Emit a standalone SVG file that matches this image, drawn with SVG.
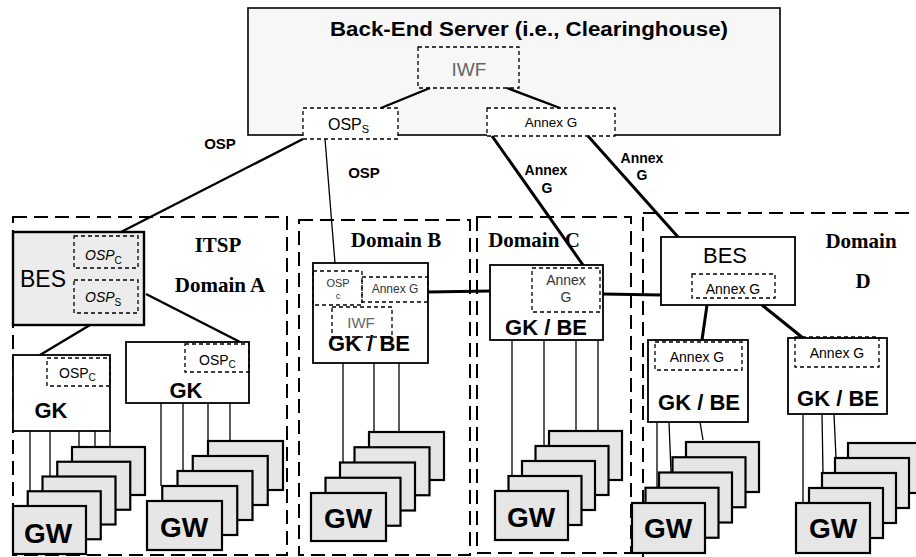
<svg xmlns="http://www.w3.org/2000/svg" width="916" height="557" viewBox="0 0 916 557">
<style>
.bg{fill:#fff}
.server{fill:#f7f7f7;stroke:#000;stroke-width:1.6}
.box{fill:#fff;stroke:#000;stroke-width:1.8}
.bes{fill:#ececec;stroke:#000;stroke-width:2.4}
.dash{fill:none;stroke:#000;stroke-width:1.3;stroke-dasharray:4 3}
.dashw{fill:#fff;stroke:#000;stroke-width:1.3;stroke-dasharray:4 3}
.domain{fill:none;stroke:#000;stroke-width:2;stroke-dasharray:14 7}
.card{fill:#e6e6e6;stroke:#000;stroke-width:2.2}
.thick{stroke:#000;stroke-width:3;fill:none}
.med{stroke:#000;stroke-width:2.4;fill:none}
.thin{stroke:#000;stroke-width:1.3;fill:none}
.sans{font-family:"Liberation Sans",Arial,sans-serif}
.serif{font-family:"Liberation Serif","Times New Roman",serif;font-weight:bold;font-size:21px}
.b{font-weight:bold}
.gw{font-family:"Liberation Sans",Arial,sans-serif;font-weight:bold;font-size:28px;text-anchor:middle}
.gk{font-family:"Liberation Sans",Arial,sans-serif;font-weight:bold;font-size:22px;text-anchor:middle}
.mid{text-anchor:middle}
</style>
<rect class="bg" x="0" y="0" width="916" height="557"/>

<g id="back-end-server">
<rect class="server" x="248" y="8" width="532" height="127"/>
<text class="sans b" x="330" y="36" font-size="20" textLength="398" lengthAdjust="spacingAndGlyphs">Back-End Server (i.e., Clearinghouse)</text>
</g>
<g id="iwf-server">
<rect class="dash" x="418" y="47" width="101" height="41"/>
<text class="sans mid" x="469" y="76" font-size="19" fill="#666">IWF</text>
</g>
<g id="osp-s-server">
<rect class="dashw" x="303" y="108" width="95" height="31"/>
<text class="sans" x="328" y="130" font-size="16">OSP<tspan font-size="11" dy="3">S</tspan></text>
</g>
<g id="annexg-server">
<rect class="dashw" x="487" y="108" width="128" height="28"/>
<text class="sans mid" x="551" y="127" font-size="13.5">Annex G</text>
</g>

<g id="domain-a">
<rect class="domain" x="13" y="217" width="274" height="338"/>
<text class="serif mid" x="218" y="252">ITSP</text>
<text class="serif mid" x="220" y="292">Domain A</text>
</g>
<g id="domain-b">
<rect class="domain" x="299" y="220" width="171" height="335"/>
<text class="serif mid" x="396" y="247">Domain B</text>
</g>
<g id="domain-c">
<rect class="domain" x="477" y="217" width="154" height="336"/>
<text class="serif mid" x="534" y="247">Domain C</text>
</g>
<g id="domain-d">
<rect class="domain" x="643" y="213" width="300" height="360"/>
<text class="serif mid" x="861" y="248">Domain</text>
<text class="serif mid" x="863" y="288">D</text>
</g>

<g id="connectors">
<line class="med" x1="430" y1="88" x2="381" y2="108"/>
<line class="med" x1="507" y1="88" x2="560" y2="108"/>
<line class="med" x1="303" y1="139" x2="121" y2="232"/>
<line class="thin" x1="325" y1="139" x2="335" y2="263" stroke-width="1.6"/>
<line class="thick" x1="492" y1="136" x2="583" y2="265"/>
<line class="thick" x1="588" y1="136" x2="678" y2="237"/>
<line class="med" x1="90" y1="325" x2="40" y2="355"/>
<line class="med" x1="146" y1="294" x2="240" y2="342"/>
<line class="thick" x1="428" y1="292" x2="490" y2="291"/>
<line class="thick" x1="603" y1="294" x2="661" y2="295"/>
<line class="thick" x1="707" y1="305" x2="702" y2="340"/>
<line class="thick" x1="762" y1="305" x2="803" y2="338"/>
<line class="thin" x1="30" y1="431" x2="30" y2="491"/>
<line class="thin" x1="50" y1="431" x2="50" y2="477"/>
<line class="thin" x1="79" y1="431" x2="79" y2="462"/>
<line class="thin" x1="95" y1="431" x2="95" y2="447"/>
<line class="thin" x1="110" y1="431" x2="110" y2="447"/>
<line class="thin" x1="161" y1="403" x2="161" y2="486"/>
<line class="thin" x1="183" y1="403" x2="183" y2="471"/>
<line class="thin" x1="208" y1="403" x2="208" y2="456"/>
<line class="thin" x1="230" y1="403" x2="230" y2="441"/>
<line class="thin" x1="343" y1="363" x2="343" y2="462"/>
<line class="thin" x1="374" y1="363" x2="374" y2="432"/>
<line class="thin" x1="399" y1="363" x2="399" y2="432"/>
<line class="thin" x1="512" y1="340" x2="512" y2="476"/>
<line class="thin" x1="544" y1="340" x2="544" y2="446"/>
<line class="thin" x1="576" y1="340" x2="576" y2="431"/>
<line class="thin" x1="598" y1="340" x2="598" y2="431"/>
<line class="thin" x1="657" y1="422" x2="657" y2="488"/>
<line class="thin" x1="669" y1="422" x2="671" y2="472"/>
<line class="thin" x1="700" y1="422" x2="703" y2="440"/>
<line class="thin" x1="803" y1="414" x2="803" y2="503"/>
<line class="thin" x1="822" y1="414" x2="823" y2="473"/>
<line class="thin" x1="834" y1="414" x2="836" y2="458"/>
</g>

<g id="bes-a">
<rect class="bes" x="13" y="232" width="131" height="93"/>
<text class="sans" x="20" y="287" font-size="23">BES</text>
<rect class="dash" x="74" y="236" width="64" height="32"/>
<text class="sans" x="85" y="260" font-size="14" font-style="italic">OSP<tspan font-size="10" dy="4" font-style="normal">C</tspan></text>
<rect class="dash" x="74" y="280" width="64" height="33"/>
<text class="sans" x="85" y="302" font-size="14" font-style="italic">OSP<tspan font-size="10" dy="4" font-style="normal">S</tspan></text>
</g>

<g id="gk-a1">
<rect class="box" x="13" y="355" width="97" height="76"/>
<rect class="dash" x="47" y="358" width="63" height="28"/>
<text class="sans" x="59" y="378" font-size="14">OSP<tspan font-size="10" dy="3">C</tspan></text>
<text class="gk" x="51" y="418">GK</text>
</g>
<g id="gk-a2">
<rect class="box" x="126" y="342" width="123" height="61"/>
<rect class="dash" x="185" y="344" width="64" height="28"/>
<text class="sans" x="199" y="365" font-size="14">OSP<tspan font-size="10" dy="3">C</tspan></text>
<text class="gk" x="186" y="398" font-size="21">GK</text>
</g>

<g id="gkbe-b">
<rect class="box" x="313" y="263" width="115" height="100"/>
<rect class="dash" x="313" y="271" width="49" height="34"/>
<text class="sans mid" x="338" y="287" font-size="11" fill="#333">OSP</text>
<text class="sans mid" x="338" y="299" font-size="9" fill="#333">c</text>
<rect class="dash" x="362" y="277" width="66" height="25"/>
<text class="sans mid" x="395" y="293" font-size="12" fill="#333">Annex G</text>
<rect class="dash" x="332" y="307" width="60" height="30"/>
<text class="sans mid" x="361" y="328" font-size="15" fill="#666">IWF</text>
<text class="gk" x="369" y="351">GK / BE</text>
</g>

<g id="gkbe-c">
<rect class="box" x="490" y="265" width="113" height="75"/>
<rect class="dash" x="532" y="268" width="68" height="44"/>
<text class="sans mid" x="566" y="285" font-size="14" fill="#333">Annex</text>
<text class="sans mid" x="566" y="302" font-size="14" fill="#333">G</text>
<text class="gk" x="546" y="335">GK / BE</text>
</g>

<g id="bes-d">
<rect class="box" x="661" y="237" width="134" height="68" stroke-width="2.2"/>
<text class="sans mid" x="725" y="263" font-size="22">BES</text>
<rect class="dash" x="692" y="274" width="83" height="24"/>
<text class="sans mid" x="733" y="294" font-size="14">Annex G</text>
</g>

<g id="gkbe-d1">
<rect class="box" x="648" y="340" width="100" height="82"/>
<rect class="dash" x="655" y="342" width="87" height="28"/>
<text class="sans mid" x="697" y="362" font-size="14">Annex G</text>
<text class="gk" x="699" y="410">GK / BE</text>
</g>
<g id="gkbe-d2">
<rect class="box" x="788" y="338" width="99" height="76"/>
<rect class="dash" x="795" y="337" width="84" height="30"/>
<text class="sans mid" x="837" y="358" font-size="14">Annex G</text>
<text class="gk" x="838" y="406">GK / BE</text>
</g>

<g id="gw-a1">
<rect class="card" x="72" y="447" width="73" height="48"/>
<rect class="card" x="57.25" y="461.75" width="73" height="48"/>
<rect class="card" x="42.5" y="476.5" width="73" height="48"/>
<rect class="card" x="27.75" y="491.25" width="73" height="48"/>
<rect class="card" x="13" y="506" width="73" height="48"/>
<text class="gw" x="48" y="543">GW</text>
</g>
<g id="gw-a2">
<rect class="card" x="208" y="441" width="75" height="49"/>
<rect class="card" x="192.75" y="456" width="75" height="49"/>
<rect class="card" x="177.5" y="471" width="75" height="49"/>
<rect class="card" x="162.25" y="486" width="75" height="49"/>
<rect class="card" x="147" y="501" width="75" height="49"/>
<text class="gw" x="184" y="537">GW</text>
</g>
<g id="gw-b">
<rect class="card" x="369" y="432" width="75" height="48"/>
<rect class="card" x="354.5" y="447.25" width="75" height="48"/>
<rect class="card" x="340" y="462.5" width="75" height="48"/>
<rect class="card" x="325.5" y="477.75" width="75" height="48"/>
<rect class="card" x="311" y="493" width="75" height="48"/>
<text class="gw" x="348" y="528">GW</text>
</g>
<g id="gw-c">
<rect class="card" x="549" y="431" width="73" height="49"/>
<rect class="card" x="535.5" y="446" width="73" height="49"/>
<rect class="card" x="522" y="461" width="73" height="49"/>
<rect class="card" x="508.5" y="476" width="73" height="49"/>
<rect class="card" x="495" y="491" width="73" height="49"/>
<text class="gw" x="531" y="527">GW</text>
</g>
<g id="gw-d1">
<rect class="card" x="686" y="442" width="73" height="50"/>
<rect class="card" x="672.5" y="457.25" width="73" height="50"/>
<rect class="card" x="659" y="472.5" width="73" height="50"/>
<rect class="card" x="645.5" y="487.75" width="73" height="50"/>
<rect class="card" x="632" y="503" width="73" height="50"/>
<text class="gw" x="668" y="538">GW</text>
</g>
<g id="gw-d2">
<rect class="card" x="848" y="443" width="74" height="50"/>
<rect class="card" x="835" y="458" width="74" height="50"/>
<rect class="card" x="822" y="473" width="74" height="50"/>
<rect class="card" x="809" y="488" width="74" height="50"/>
<rect class="card" x="796" y="503" width="74" height="50"/>
<text class="gw" x="833" y="538">GW</text>
</g>

<g id="labels">
<text class="sans b mid" x="220" y="149" font-size="15">OSP</text>
<text class="sans b mid" x="364" y="178" font-size="15">OSP</text>
<text class="sans b mid" x="546" y="175" font-size="14">Annex</text>
<text class="sans b mid" x="547" y="193" font-size="14">G</text>
<text class="sans b mid" x="642" y="163" font-size="14">Annex</text>
<text class="sans b mid" x="642" y="180" font-size="14">G</text>
</g>
</svg>
